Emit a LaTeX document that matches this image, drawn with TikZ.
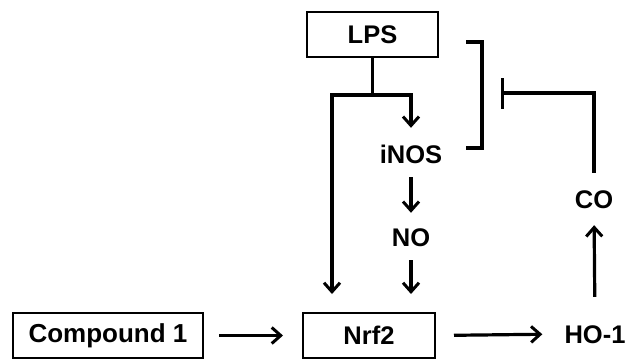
\documentclass[tikz,border=0pt]{standalone}
\usepackage{fontspec}
\setmainfont{Liberation Sans}
\usetikzlibrary{arrows.meta,calc}
\begin{document}
\begin{tikzpicture}[x=1pt,y=-1pt,
  every node/.style={font=\fontsize{25.5}{28}\selectfont\bfseries},
  box/.style={draw,line width=2pt,inner sep=0pt,minimum height=45pt},
  lbl/.style={inner sep=0pt,text height=18pt,text depth=0pt},
  ln/.style={line width=3.2pt},
  arr/.style={line width=3.2pt,-{Straight Barb[length=9pt,width=16pt,line width=3pt]}},
  inh/.style={line width=3.2pt,-{Bar[width=31pt,line width=3.2pt]}}]
\useasboundingbox (0,0) rectangle (640,359);
\node[box,minimum width=131pt] (lps) at (372.5,34.5) {LPS};
\node[box,minimum width=190pt,font=\fontsize{26}{30}\selectfont\bfseries] (comp) at (108,335.5) {Compound 1};
\node[box,minimum width=132pt] (nrf) at (369,335.5) {Nrf2};
\node[lbl] (inos) at (411,154) {iNOS};
\node[lbl] (no) at (411,237) {NO};
\node[lbl] (co) at (594,199) {CO};
\node[lbl] (ho) at (595,334) {HO-1};
\coordinate (split) at (372.5,95);
\coordinate (inhib) at (501,93);
\coordinate (bt) at (466,42);
\coordinate (bb) at (466,148);
\draw[ln] (lps.south) -- (split);
\draw[arr,shorten >=18pt] (split) -| ([xshift=-37pt]nrf.north);
\draw[arr,shorten >=17pt] (split) -| (inos.north);
\draw[arr,shorten <=14pt,shorten >=15pt] (inos.south) -- (no.north);
\draw[arr,shorten <=14pt,shorten >=18pt] (no.south) -- (no.south |- nrf.north);
\draw[arr,shorten <=15pt,shorten >=19pt] (comp.east) -- (nrf.west);
\draw[arr,shorten <=18pt,shorten >=22pt] (nrf.east) -- (ho.west);
\draw[arr,shorten <=28pt,shorten >=17pt] (ho.north) -- (co.south);
\draw[inh,shorten <=17pt] (co.north) |- (inhib);
\draw[ln] (bt) -- ++(16,0) -- ++(0,106) -- (bb);
\end{tikzpicture}
\end{document}
